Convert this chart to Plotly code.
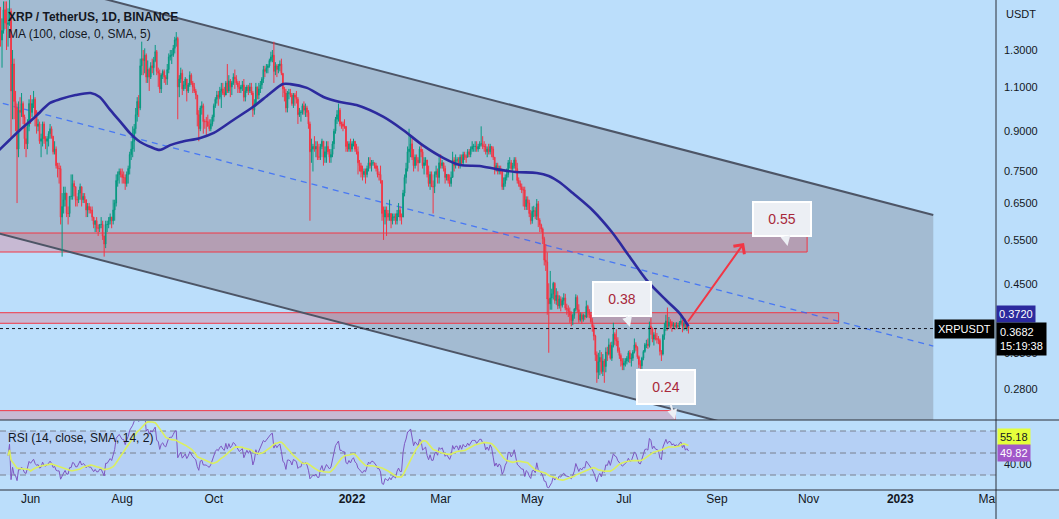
import math
import pandas as pd
import plotly.graph_objects as go

# ---------------- data (daily XRP/USDT candles) ----------------
START_DATE = "2021-05-11"
FIRST_OPEN = 1.37

CLOSE = [
    # 2021-05 (11..31)
    1.50, 1.36, 1.42, 1.56, 1.47, 1.46, 1.47, 1.55, 1.08, 1.22, 1.03, 1.00, 0.83, 0.99, 0.98, 1.02, 0.96, 0.87, 0.85, 0.92, 1.02,
    # 2021-06
    0.98, 1.02, 1.04, 0.96, 0.92, 0.93, 0.86, 0.87, 0.93, 0.87, 0.86, 0.87, 0.89, 0.91, 0.88, 0.82, 0.83, 0.77, 0.76, 0.76, 0.61, 0.64, 0.66, 0.68, 0.62, 0.62, 0.67, 0.67, 0.71, 0.70,
    # 2021-07
    0.66, 0.66, 0.68, 0.70, 0.66, 0.67, 0.66, 0.63, 0.64, 0.63, 0.63, 0.61, 0.59, 0.60, 0.58, 0.58, 0.59, 0.59, 0.56, 0.54, 0.59, 0.59, 0.60, 0.61, 0.60, 0.63, 0.65, 0.72, 0.74, 0.75, 0.74,
    # 2021-08
    0.73, 0.73, 0.71, 0.74, 0.76, 0.81, 0.83, 0.86, 0.91, 0.97, 1.03, 1.00, 1.21, 1.25, 1.24, 1.27, 1.15, 1.19, 1.15, 1.21, 1.20, 1.24, 1.29, 1.18, 1.17, 1.09, 1.16, 1.18, 1.15, 1.14, 1.19,
    # 2021-09
    1.26, 1.27, 1.27, 1.31, 1.36, 1.37, 1.10, 1.14, 1.17, 1.09, 1.11, 1.14, 1.08, 1.11, 1.16, 1.12, 1.10, 1.08, 1.06, 0.97, 0.91, 1.00, 1.01, 0.94, 0.94, 0.94, 0.92, 0.91, 0.93, 0.96,
    # 2021-10
    1.01, 1.04, 1.06, 1.05, 1.08, 1.09, 1.07, 1.06, 1.12, 1.08, 1.13, 1.10, 1.12, 1.15, 1.14, 1.12, 1.10, 1.09, 1.10, 1.11, 1.05, 1.08, 1.10, 1.08, 1.10, 1.07, 0.99, 1.02, 1.10, 1.06, 1.09,
    # 2021-11
    1.11, 1.14, 1.19, 1.18, 1.20, 1.21, 1.24, 1.26, 1.27, 1.18, 1.21, 1.19, 1.21, 1.22, 1.17, 1.09, 1.07, 1.00, 1.07, 1.07, 1.06, 1.02, 1.06, 1.05, 1.04, 0.97, 0.98, 0.98, 1.01, 0.99,
    # 2021-12
    1.00, 0.98, 0.93, 0.82, 0.83, 0.84, 0.83, 0.84, 0.80, 0.80, 0.84, 0.86, 0.80, 0.82, 0.84, 0.82, 0.80, 0.81, 0.85, 0.90, 0.95, 0.97, 0.99, 0.93, 0.93, 0.92, 0.92, 0.84, 0.83, 0.85, 0.83,
    # 2022-01
    0.85, 0.86, 0.83, 0.82, 0.78, 0.77, 0.75, 0.74, 0.75, 0.74, 0.76, 0.78, 0.77, 0.78, 0.78, 0.77, 0.76, 0.74, 0.74, 0.72, 0.62, 0.61, 0.63, 0.62, 0.61, 0.62, 0.60, 0.61, 0.61, 0.60, 0.62,
    # 2022-02
    0.63, 0.61, 0.61, 0.68, 0.73, 0.76, 0.82, 0.83, 0.85, 0.80, 0.77, 0.80, 0.79, 0.78, 0.83, 0.82, 0.77, 0.78, 0.79, 0.74, 0.71, 0.74, 0.70, 0.70, 0.74, 0.75, 0.73, 0.78,
    # 2022-03
    0.77, 0.78, 0.76, 0.73, 0.74, 0.72, 0.71, 0.73, 0.79, 0.77, 0.79, 0.79, 0.77, 0.80, 0.78, 0.81, 0.80, 0.80, 0.82, 0.81, 0.83, 0.84, 0.84, 0.84, 0.83, 0.84, 0.85, 0.85, 0.84, 0.84, 0.82,
    # 2022-04
    0.83, 0.82, 0.84, 0.83, 0.80, 0.76, 0.77, 0.75, 0.76, 0.75, 0.70, 0.71, 0.73, 0.74, 0.78, 0.78, 0.76, 0.77, 0.79, 0.76, 0.72, 0.71, 0.70, 0.69, 0.69, 0.64, 0.66, 0.65, 0.62, 0.60,
    # 2022-05
    0.626, 0.628, 0.612, 0.648, 0.602, 0.589, 0.578, 0.553, 0.502, 0.498, 0.421, 0.412, 0.423, 0.431, 0.452, 0.418, 0.428, 0.408, 0.421, 0.409, 0.418, 0.423, 0.404, 0.402, 0.398, 0.391, 0.382, 0.391, 0.402, 0.424, 0.401,
    # 2022-06
    0.383, 0.392, 0.384, 0.391, 0.388, 0.407, 0.398, 0.392, 0.380, 0.371, 0.356, 0.327, 0.302, 0.317, 0.323, 0.303, 0.318, 0.310, 0.331, 0.328, 0.342, 0.322, 0.341, 0.359, 0.351, 0.348, 0.333, 0.326, 0.318, 0.312,
    # 2022-07
    0.315, 0.318, 0.322, 0.330, 0.321, 0.322, 0.331, 0.342, 0.338, 0.324, 0.313, 0.311, 0.322, 0.332, 0.342, 0.343, 0.341, 0.372, 0.368, 0.351, 0.358, 0.352, 0.351, 0.349, 0.332, 0.328, 0.357, 0.370, 0.381, 0.372, 0.379,
    # 2022-08 (1..13)
    0.378, 0.372, 0.375, 0.371, 0.374, 0.371, 0.378, 0.381, 0.372, 0.377, 0.369, 0.372, 0.3682,
]

HIGH = [
    1.54, 1.58, 1.50, 1.62, 1.62, 1.62, 1.57, 1.63, 1.57, 1.30, 1.25, 1.08, 1.02, 1.03, 1.05, 1.07, 1.03, 0.97, 0.92, 0.95, 1.04,
    1.06, 1.04, 1.08, 1.05, 0.99, 0.95, 0.94, 0.89, 0.94, 0.94, 0.88, 0.88, 0.90, 0.93, 0.92, 0.88, 0.86, 0.84, 0.78, 0.78, 0.77, 0.68, 0.70, 0.70, 0.68, 0.64, 0.67, 0.74, 0.74, 0.72,
    0.70, 0.67, 0.69, 0.71, 0.70, 0.68, 0.68, 0.66, 0.65, 0.65, 0.64, 0.64, 0.61, 0.60, 0.61, 0.59, 0.59, 0.61, 0.60, 0.56, 0.60, 0.60, 0.61, 0.62, 0.61, 0.66, 0.66, 0.74, 0.75, 0.76, 0.76,
    0.76, 0.75, 0.74, 0.75, 0.77, 0.82, 0.86, 0.92, 0.93, 1.00, 1.05, 1.06, 1.25, 1.35, 1.30, 1.31, 1.28, 1.24, 1.20, 1.23, 1.25, 1.26, 1.33, 1.30, 1.20, 1.19, 1.17, 1.19, 1.19, 1.16, 1.22,
    1.28, 1.30, 1.30, 1.33, 1.38, 1.41, 1.38, 1.16, 1.20, 1.19, 1.13, 1.15, 1.14, 1.12, 1.18, 1.17, 1.13, 1.12, 1.09, 1.06, 0.99, 1.01, 1.03, 1.02, 0.95, 0.96, 0.97, 0.95, 0.95, 0.97,
    1.02, 1.05, 1.08, 1.08, 1.10, 1.12, 1.12, 1.10, 1.13, 1.22, 1.16, 1.14, 1.13, 1.17, 1.19, 1.16, 1.13, 1.13, 1.11, 1.13, 1.14, 1.10, 1.11, 1.11, 1.12, 1.12, 1.08, 1.04, 1.12, 1.10, 1.12,
    1.13, 1.15, 1.21, 1.21, 1.22, 1.22, 1.25, 1.29, 1.30, 1.35, 1.23, 1.22, 1.22, 1.24, 1.25, 1.17, 1.10, 1.09, 1.08, 1.09, 1.09, 1.07, 1.07, 1.07, 1.08, 1.05, 1.00, 0.99, 1.02, 1.03,
    1.02, 1.01, 0.99, 0.94, 0.87, 0.85, 0.88, 0.86, 0.86, 0.85, 0.85, 0.87, 0.86, 0.84, 0.86, 0.86, 0.83, 0.83, 0.86, 0.91, 0.96, 0.99, 1.02, 1.00, 0.94, 0.94, 0.95, 0.92, 0.86, 0.86, 0.87,
    0.86, 0.87, 0.86, 0.85, 0.84, 0.79, 0.78, 0.77, 0.76, 0.76, 0.77, 0.80, 0.80, 0.79, 0.79, 0.78, 0.78, 0.77, 0.75, 0.77, 0.72, 0.64, 0.64, 0.64, 0.63, 0.66, 0.62, 0.62, 0.62, 0.62, 0.63,
    0.65, 0.64, 0.62, 0.69, 0.74, 0.78, 0.84, 0.91, 0.88, 0.87, 0.83, 0.81, 0.81, 0.80, 0.84, 0.85, 0.83, 0.80, 0.80, 0.79, 0.77, 0.75, 0.75, 0.72, 0.75, 0.77, 0.76, 0.80,
    0.81, 0.79, 0.78, 0.77, 0.74, 0.74, 0.74, 0.75, 0.82, 0.80, 0.81, 0.80, 0.80, 0.81, 0.81, 0.82, 0.82, 0.81, 0.83, 0.83, 0.84, 0.86, 0.85, 0.86, 0.86, 0.85, 0.86, 0.92, 0.88, 0.86, 0.85,
    0.84, 0.85, 0.85, 0.84, 0.84, 0.80, 0.78, 0.78, 0.77, 0.77, 0.75, 0.73, 0.74, 0.76, 0.79, 0.80, 0.79, 0.78, 0.80, 0.80, 0.78, 0.73, 0.72, 0.71, 0.70, 0.70, 0.67, 0.67, 0.66, 0.63,
    0.640, 0.642, 0.638, 0.662, 0.656, 0.607, 0.592, 0.582, 0.558, 0.540, 0.520, 0.452, 0.478, 0.441, 0.455, 0.454, 0.442, 0.436, 0.428, 0.426, 0.424, 0.432, 0.431, 0.412, 0.409, 0.405, 0.398, 0.394, 0.404, 0.430, 0.428,
    0.411, 0.396, 0.395, 0.394, 0.392, 0.418, 0.410, 0.402, 0.396, 0.386, 0.375, 0.358, 0.332, 0.330, 0.334, 0.331, 0.328, 0.321, 0.338, 0.339, 0.352, 0.346, 0.347, 0.378, 0.362, 0.367, 0.354, 0.338, 0.329, 0.322,
    0.322, 0.322, 0.325, 0.333, 0.334, 0.329, 0.334, 0.352, 0.346, 0.340, 0.326, 0.319, 0.324, 0.334, 0.345, 0.350, 0.352, 0.380, 0.386, 0.370, 0.362, 0.368, 0.361, 0.356, 0.352, 0.334, 0.359, 0.378, 0.392, 0.405, 0.388,
    0.384, 0.381, 0.379, 0.378, 0.379, 0.377, 0.381, 0.389, 0.383, 0.380, 0.385, 0.376, 0.375,
]

LOW = [
    1.36, 1.32, 1.20, 1.40, 1.43, 1.30, 1.32, 1.45, 0.87, 0.95, 0.95, 0.90, 0.65, 0.80, 0.91, 0.96, 0.93, 0.83, 0.80, 0.83, 0.90,
    0.93, 0.96, 1.00, 0.92, 0.89, 0.90, 0.85, 0.80, 0.84, 0.85, 0.83, 0.81, 0.84, 0.87, 0.87, 0.81, 0.81, 0.76, 0.73, 0.71, 0.59, 0.51, 0.62, 0.64, 0.61, 0.59, 0.61, 0.66, 0.66, 0.67,
    0.64, 0.64, 0.65, 0.66, 0.64, 0.65, 0.65, 0.61, 0.61, 0.62, 0.62, 0.60, 0.58, 0.57, 0.57, 0.56, 0.57, 0.58, 0.55, 0.51, 0.53, 0.57, 0.58, 0.59, 0.58, 0.59, 0.60, 0.64, 0.70, 0.71, 0.73,
    0.71, 0.71, 0.69, 0.70, 0.71, 0.74, 0.79, 0.80, 0.82, 0.89, 0.94, 0.96, 0.99, 1.16, 1.16, 1.17, 1.12, 1.12, 1.08, 1.14, 1.17, 1.16, 1.23, 1.16, 1.10, 1.07, 1.07, 1.14, 1.12, 1.11, 1.11,
    1.17, 1.24, 1.22, 1.26, 1.28, 1.32, 0.95, 1.05, 1.12, 1.06, 1.08, 1.09, 1.03, 1.07, 1.10, 1.11, 1.07, 1.07, 1.04, 0.92, 0.86, 0.90, 0.97, 0.89, 0.91, 0.88, 0.92, 0.90, 0.90, 0.92,
    0.94, 1.00, 1.02, 1.01, 1.04, 1.00, 1.06, 1.05, 1.06, 1.07, 1.07, 1.05, 1.06, 1.11, 1.09, 1.11, 1.07, 1.07, 1.07, 1.08, 1.03, 1.03, 1.07, 1.06, 1.07, 1.06, 0.96, 0.97, 1.01, 1.04, 1.04,
    1.07, 1.09, 1.12, 1.15, 1.17, 1.17, 1.20, 1.23, 1.23, 1.12, 1.16, 1.15, 1.17, 1.18, 1.16, 1.05, 1.03, 0.98, 0.98, 1.04, 1.05, 1.01, 1.00, 1.01, 1.02, 0.93, 0.96, 0.94, 0.97, 0.97,
    0.96, 0.96, 0.91, 0.60, 0.78, 0.75, 0.82, 0.80, 0.79, 0.79, 0.79, 0.83, 0.77, 0.78, 0.78, 0.81, 0.78, 0.78, 0.80, 0.83, 0.89, 0.93, 0.94, 0.92, 0.91, 0.90, 0.91, 0.82, 0.82, 0.82, 0.82,
    0.82, 0.84, 0.82, 0.81, 0.74, 0.75, 0.73, 0.72, 0.73, 0.71, 0.73, 0.75, 0.76, 0.75, 0.77, 0.76, 0.75, 0.73, 0.72, 0.71, 0.60, 0.55, 0.59, 0.56, 0.60, 0.60, 0.58, 0.59, 0.60, 0.59, 0.59,
    0.61, 0.60, 0.59, 0.61, 0.67, 0.71, 0.75, 0.78, 0.80, 0.79, 0.75, 0.76, 0.77, 0.75, 0.78, 0.80, 0.76, 0.74, 0.77, 0.73, 0.70, 0.69, 0.70, 0.62, 0.68, 0.73, 0.71, 0.71,
    0.76, 0.76, 0.75, 0.71, 0.72, 0.71, 0.70, 0.70, 0.73, 0.75, 0.76, 0.78, 0.76, 0.76, 0.77, 0.77, 0.79, 0.78, 0.80, 0.80, 0.80, 0.82, 0.82, 0.82, 0.82, 0.82, 0.83, 0.84, 0.83, 0.82, 0.81,
    0.80, 0.81, 0.81, 0.80, 0.79, 0.74, 0.75, 0.74, 0.74, 0.74, 0.69, 0.69, 0.70, 0.72, 0.73, 0.76, 0.75, 0.72, 0.76, 0.75, 0.71, 0.70, 0.69, 0.68, 0.64, 0.63, 0.63, 0.63, 0.61, 0.59,
    0.592, 0.610, 0.604, 0.602, 0.583, 0.570, 0.569, 0.540, 0.490, 0.478, 0.392, 0.330, 0.401, 0.401, 0.420, 0.412, 0.410, 0.402, 0.403, 0.398, 0.405, 0.410, 0.400, 0.392, 0.388, 0.378, 0.372, 0.374, 0.385, 0.398, 0.396,
    0.378, 0.380, 0.376, 0.380, 0.383, 0.386, 0.387, 0.386, 0.378, 0.363, 0.349, 0.318, 0.288, 0.293, 0.298, 0.300, 0.297, 0.288, 0.302, 0.318, 0.326, 0.320, 0.318, 0.338, 0.342, 0.340, 0.330, 0.321, 0.310, 0.305,
    0.305, 0.310, 0.313, 0.316, 0.315, 0.310, 0.318, 0.329, 0.333, 0.321, 0.308, 0.304, 0.300, 0.319, 0.330, 0.337, 0.336, 0.338, 0.358, 0.346, 0.341, 0.349, 0.344, 0.343, 0.326, 0.318, 0.326, 0.350, 0.364, 0.365, 0.368,
    0.368, 0.363, 0.368, 0.366, 0.368, 0.367, 0.369, 0.374, 0.362, 0.365, 0.367, 0.364, 0.360,
]

# MA(100) curve
MA_DATES = [
    "2021-05-11", "2021-05-18", "2021-05-25", "2021-06-04", "2021-06-14", "2021-06-21", "2021-07-01",
    "2021-07-11", "2021-07-17", "2021-07-24", "2021-07-31", "2021-08-06", "2021-08-13", "2021-08-20",
    "2021-08-26", "2021-09-02", "2021-09-09", "2021-09-22", "2021-10-01", "2021-10-14", "2021-10-27",
    "2021-11-07", "2021-11-16", "2021-11-21", "2021-12-02", "2021-12-13", "2021-12-24", "2022-01-04",
    "2022-01-22", "2022-02-04", "2022-02-17", "2022-03-03", "2022-03-14", "2022-03-27", "2022-04-07",
    "2022-04-20", "2022-05-04", "2022-05-12", "2022-05-19", "2022-05-28", "2022-06-10", "2022-06-23",
    "2022-07-05", "2022-07-16", "2022-07-29", "2022-08-07", "2022-08-13",
]
MA_VALUES = [
    0.826, 0.865, 0.905, 0.960, 1.023, 1.041, 1.060,
    1.070, 1.051, 0.991, 0.938, 0.893, 0.857, 0.838,
    0.827, 0.845, 0.857, 0.873, 0.893, 0.947, 1.004,
    1.065, 1.114, 1.114, 1.095, 1.051, 1.027, 1.013,
    0.960, 0.905, 0.845, 0.797, 0.772, 0.769, 0.758,
    0.748, 0.745, 0.735, 0.715, 0.680, 0.630, 0.570,
    0.509, 0.459, 0.419, 0.395, 0.372,
]

PRICE_TICKS = [1.3, 1.1, 0.9, 0.75, 0.65, 0.55, 0.45, 0.33, 0.28]
PRICE_TICK_TEXT = ["1.3000", "1.1000", "0.9000", "0.7500", "0.6500", "0.5500", "0.4500", "0.3300", "0.2800"]
TIME_TICKS = ["2021-06-01", "2021-08-01", "2021-10-01", "2022-01-01", "2022-03-01", "2022-05-01",
              "2022-07-01", "2022-09-01", "2022-11-01", "2023-01-01", "2023-03-01"]
TIME_TICK_TEXT = ["Jun", "Aug", "Oct", "<b>2022</b>", "Mar", "May", "Jul", "Sep", "Nov", "<b>2023</b>", "Mar"]
RSI_TICKS = [40]
RSI_TICK_TEXT = ["40.00"]

# drawings (date, price anchors)
CHANNEL_UPPER = [("2021-07-23", 1.630), ("2023-01-23", 0.6157)]
CHANNEL_LOWER = [("2021-07-23", 0.4975), ("2023-01-23", 0.1879)]
CHANNEL_START = "2021-04-01"
ZONES = [  # (top, bottom, end date)
    (0.5676, 0.5208, "2022-10-31"),
    (0.3956, 0.3771, "2022-11-21"),
    (0.2539, 0.2000, "2022-08-04"),
]
ZONE_START = "2021-04-01"
CALLOUTS = [  # text, tail date, tail price, box offset px
    ("0.55", "2022-10-18", 0.5351, -6, -27),
    ("0.38", "2022-07-05", 0.3708, -8, -28),
    ("0.24", "2022-08-04", 0.2440, -9, -32),
]
ARROW_FROM = ("2022-08-12", 0.3776)
ARROW_TO = ("2022-09-19", 0.5424)
LAST_PRICE = 0.3682
MA_LAST = 0.3720
RSI_LAST = 49.82
RSI_MA_LAST = 55.18

X_RANGE = ["2021-05-11 15:36", "2023-03-05 18:14"]
PRICE_RANGE = [0.24336, 1.6304]
RSI_RANGE = [16.36, 79.09]

# ---------------- styles ----------------
FONT = "Liberation Sans, Arial, sans-serif"
BG = "#bbdefb"
TXT = "#131722"
UP = "#089981"
DN = "#f23645"
MA_COLOR = "#2c2a9e"
CH_FILL = "rgba(120,123,134,0.35)"
CH_LINE = "#4d5566"
MID_LINE = "rgba(41,98,255,0.75)"
ZONE_FILL = "rgba(242,54,69,0.22)"
ZONE_LINE = "#f23645"
RSI_COLOR = "#7e57c2"
RSI_MA_COLOR = "#dbef5f"
BUBBLE_BG = "#eceff4"
BUBBLE_TXT = "#a8283a"
SEP = "#2a2e39"

# ---------------- build ----------------
dates = pd.date_range(START_DATE, periods=len(CLOSE), freq="D")
OPEN = [FIRST_OPEN] + CLOSE[:-1]
assert len(HIGH) == len(CLOSE) == len(LOW)


def on_line(anchors, date):
    (d0, p0), (d1, p1) = anchors
    t0, t1, t = (pd.Timestamp(d).value for d in (d0, d1, date))
    f = (t - t0) / (t1 - t0)
    return math.exp(math.log(p0) + f * (math.log(p1) - math.log(p0)))


ch_end = CHANNEL_UPPER[1][0]
u0, u1 = on_line(CHANNEL_UPPER, CHANNEL_START), on_line(CHANNEL_UPPER, ch_end)
l0, l1 = on_line(CHANNEL_LOWER, CHANNEL_START), on_line(CHANNEL_LOWER, ch_end)

fig = go.Figure()

# channel background (base price axis, under candles)
fig.add_trace(go.Scatter(x=[CHANNEL_START, ch_end, ch_end, CHANNEL_START], y=[u0, u1, l1, l0],
                         fill="toself", fillcolor=CH_FILL, mode="lines", line=dict(width=0),
                         xaxis="x", yaxis="y", hoverinfo="skip"))
# zones
for top, bot, end in ZONES:
    fig.add_trace(go.Scatter(x=[ZONE_START, end, end, ZONE_START, ZONE_START], y=[top, top, bot, bot, top],
                             fill="toself", fillcolor=ZONE_FILL, mode="lines",
                             line=dict(color=ZONE_LINE, width=1), xaxis="x", yaxis="y", hoverinfo="skip"))
# channel lines
fig.add_trace(go.Scatter(x=[CHANNEL_START, ch_end], y=[u0, u1], mode="lines",
                         line=dict(color=CH_LINE, width=2), xaxis="x", yaxis="y", hoverinfo="skip"))
fig.add_trace(go.Scatter(x=[CHANNEL_START, ch_end], y=[l0, l1], mode="lines",
                         line=dict(color=CH_LINE, width=2), xaxis="x", yaxis="y", hoverinfo="skip"))
fig.add_trace(go.Scatter(x=[CHANNEL_START, ch_end], y=[math.sqrt(u0 * l0), math.sqrt(u1 * l1)], mode="lines",
                         line=dict(color=MID_LINE, width=1.3, dash="6px,5px"), xaxis="x", yaxis="y",
                         hoverinfo="skip"))

# candles + MA on overlay axis (above drawings' fills)
fig.add_trace(go.Candlestick(x=dates, open=OPEN, high=HIGH, low=LOW, close=CLOSE,
                             increasing=dict(line=dict(color=UP, width=1), fillcolor=UP),
                             decreasing=dict(line=dict(color=DN, width=1), fillcolor=DN),
                             whiskerwidth=0, xaxis="x", yaxis="y3", hoverinfo="skip"))
fig.add_trace(go.Scatter(x=MA_DATES, y=MA_VALUES, mode="lines", line=dict(color=MA_COLOR, width=2.6,
                         shape="spline", smoothing=0.8), xaxis="x", yaxis="y3", hoverinfo="skip"))
fig.add_trace(go.Scatter(x=X_RANGE, y=[LAST_PRICE, LAST_PRICE], mode="lines",
                         line=dict(color=TXT, width=1, dash="dot"), xaxis="x", yaxis="y3", hoverinfo="skip"))

# RSI (14) with SMA(14)
s = pd.Series(CLOSE, index=dates)
delta = s.diff()
gain = delta.clip(lower=0)
loss = (-delta).clip(lower=0)
avg_gain = gain.ewm(alpha=1 / 14, adjust=True, min_periods=6).mean()
avg_loss = loss.ewm(alpha=1 / 14, adjust=True, min_periods=6).mean()
rsi = 100 - 100 / (1 + avg_gain / avg_loss)
rsi_ma = rsi.rolling(14, min_periods=1).mean()
fig.add_trace(go.Scatter(x=dates, y=rsi, mode="lines", line=dict(color=RSI_COLOR, width=1),
                         xaxis="x", yaxis="y2", hoverinfo="skip"))
fig.add_trace(go.Scatter(x=dates, y=rsi_ma, mode="lines", line=dict(color=RSI_MA_COLOR, width=1.6),
                         xaxis="x", yaxis="y2", hoverinfo="skip"))

PLOT_H = 519 - 29
price_bottom = 70 / PLOT_H
rsi_top = 69 / PLOT_H
col_right = 1 + 63 / 996

shapes = [
    dict(type="rect", xref="paper", yref="y2", x0=0, x1=1, y0=30, y1=70,
         fillcolor="rgba(126,87,194,0.10)", line=dict(width=0), layer="below"),
]
for lvl in (70, 50, 30):
    shapes.append(dict(type="line", xref="paper", yref="y2", x0=0, x1=1, y0=lvl, y1=lvl,
                       line=dict(color="rgba(110,113,125,0.85)", width=1, dash="6px,4px"), layer="below"))
shapes += [
    dict(type="rect", xref="paper", yref="paper", x0=1, x1=col_right + 0.01, y0=-0.08, y1=0,
         fillcolor=BG, line=dict(width=0), layer="above"),
    dict(type="line", xref="paper", yref="paper", x0=0, x1=col_right + 0.01, y0=price_bottom, y1=price_bottom,
         line=dict(color=SEP, width=1), layer="above"),
    dict(type="line", xref="paper", yref="paper", x0=0, x1=col_right + 0.01, y0=0, y1=0,
         line=dict(color=SEP, width=1), layer="above"),
    dict(type="line", xref="paper", yref="paper", x0=1, x1=1, y0=-0.08, y1=1,
         line=dict(color=SEP, width=1), layer="above"),
]

lg = math.log10
ann = [
    dict(text="<b>XRP / TetherUS, 1D, BINANCE</b>", xref="paper", yref="paper", x=0, y=1,
         xanchor="left", yanchor="top", xshift=6, yshift=-8, showarrow=False,
         font=dict(size=12, color=TXT, family=FONT)),
    dict(text="MA (100, close, 0, SMA, 5)", xref="paper", yref="paper", x=0, y=1,
         xanchor="left", yanchor="top", xshift=6, yshift=-25, showarrow=False,
         font=dict(size=12, color=TXT, family=FONT)),
    dict(text="RSI (14, close, SMA, 14, 2)", xref="paper", yref="paper", x=0, y=rsi_top,
         xanchor="left", yanchor="top", xshift=6, yshift=-8, showarrow=False,
         font=dict(size=12, color=TXT, family=FONT)),
    dict(text="USDT", xref="paper", yref="paper", x=1, y=1, xanchor="left", yanchor="top",
         xshift=8, yshift=-6, showarrow=False, font=dict(size=11, color=TXT, family=FONT)),
    dict(text="XRPUSDT", xref="paper", yref="y", x=1, y=lg(LAST_PRICE), xanchor="right", yanchor="middle",
         xshift=-1, showarrow=False, bgcolor="#000000", borderpad=3,
         font=dict(size=11, color="white", family=FONT)),
    dict(text="%.4f" % MA_LAST, xref="paper", yref="y", x=1, y=lg(MA_LAST), xanchor="left", yanchor="middle",
         yshift=12, showarrow=False, bgcolor=MA_COLOR, borderpad=2,
         font=dict(size=11, color="white", family=FONT)),
    dict(text="%.4f<br>15:19:38" % LAST_PRICE, xref="paper", yref="y", x=1, y=lg(LAST_PRICE),
         xanchor="left", yanchor="top", yshift=7, align="left", showarrow=False, bgcolor="#000000",
         borderpad=3, font=dict(size=11, color="white", family=FONT)),
    dict(text="%.2f" % RSI_MA_LAST, xref="paper", yref="y2", x=1, y=RSI_MA_LAST, xanchor="left",
         yanchor="middle", xshift=1, yshift=10, showarrow=False, bgcolor="#e5ff3b", borderpad=2,
         font=dict(size=11, color=TXT, family=FONT)),
    dict(text="%.2f" % RSI_LAST, xref="paper", yref="y2", x=1, y=RSI_LAST, xanchor="left",
         yanchor="middle", xshift=1, showarrow=False, bgcolor="#a157c9", borderpad=2,
         font=dict(size=11, color="white", family=FONT)),
    dict(text="", x=ARROW_TO[0], y=lg(ARROW_TO[1]), xref="x", yref="y",
         ax=ARROW_FROM[0], ay=lg(ARROW_FROM[1]), axref="x", ayref="y", showarrow=True,
         arrowhead=4, arrowsize=1.3, arrowwidth=2, arrowcolor=DN),
]
for text, d, p, ax, ay in CALLOUTS:
    ann.append(dict(text=text, x=d, y=lg(p), xref="x", yref="y", ax=ax, ay=ay, showarrow=True,
                    arrowhead=2, arrowsize=1, arrowwidth=2, arrowcolor=BUBBLE_BG,
                    bgcolor=BUBBLE_BG, bordercolor="#ffffff", borderwidth=2, borderpad=6,
                    width=44, height=20, font=dict(size=14, color=BUBBLE_TXT, family=FONT)))

fig.update_layout(
    width=1059, height=519, margin=dict(l=0, r=63, t=0, b=29),
    paper_bgcolor=BG, plot_bgcolor=BG, showlegend=False, hovermode=False,
    font=dict(family=FONT, color=TXT),
    xaxis=dict(type="date", range=X_RANGE, anchor="y2", tickvals=TIME_TICKS, ticktext=TIME_TICK_TEXT,
               showgrid=False, zeroline=False, showline=False, ticks="",
               tickfont=dict(size=12, color=TXT, family=FONT), rangeslider=dict(visible=False)),
    yaxis=dict(domain=[price_bottom, 1], type="log", range=[lg(PRICE_RANGE[0]), lg(PRICE_RANGE[1])],
               side="right", anchor="x", tickvals=PRICE_TICKS, ticktext=PRICE_TICK_TEXT, showgrid=False,
               zeroline=False, showline=False, ticks="", ticklabelstandoff=7,
               tickfont=dict(size=11, color=TXT, family=FONT)),
    yaxis3=dict(overlaying="y", type="log", range=[lg(PRICE_RANGE[0]), lg(PRICE_RANGE[1])],
                side="right", anchor="x", visible=False),
    yaxis2=dict(domain=[0, rsi_top], range=RSI_RANGE, side="right", anchor="x", tickvals=RSI_TICKS,
                ticktext=RSI_TICK_TEXT, showgrid=False, zeroline=False, showline=False, ticks="",
                ticklabelstandoff=7, tickfont=dict(size=11, color=TXT, family=FONT)),
    shapes=shapes, annotations=ann,
)

fig.write_html("out.html")
